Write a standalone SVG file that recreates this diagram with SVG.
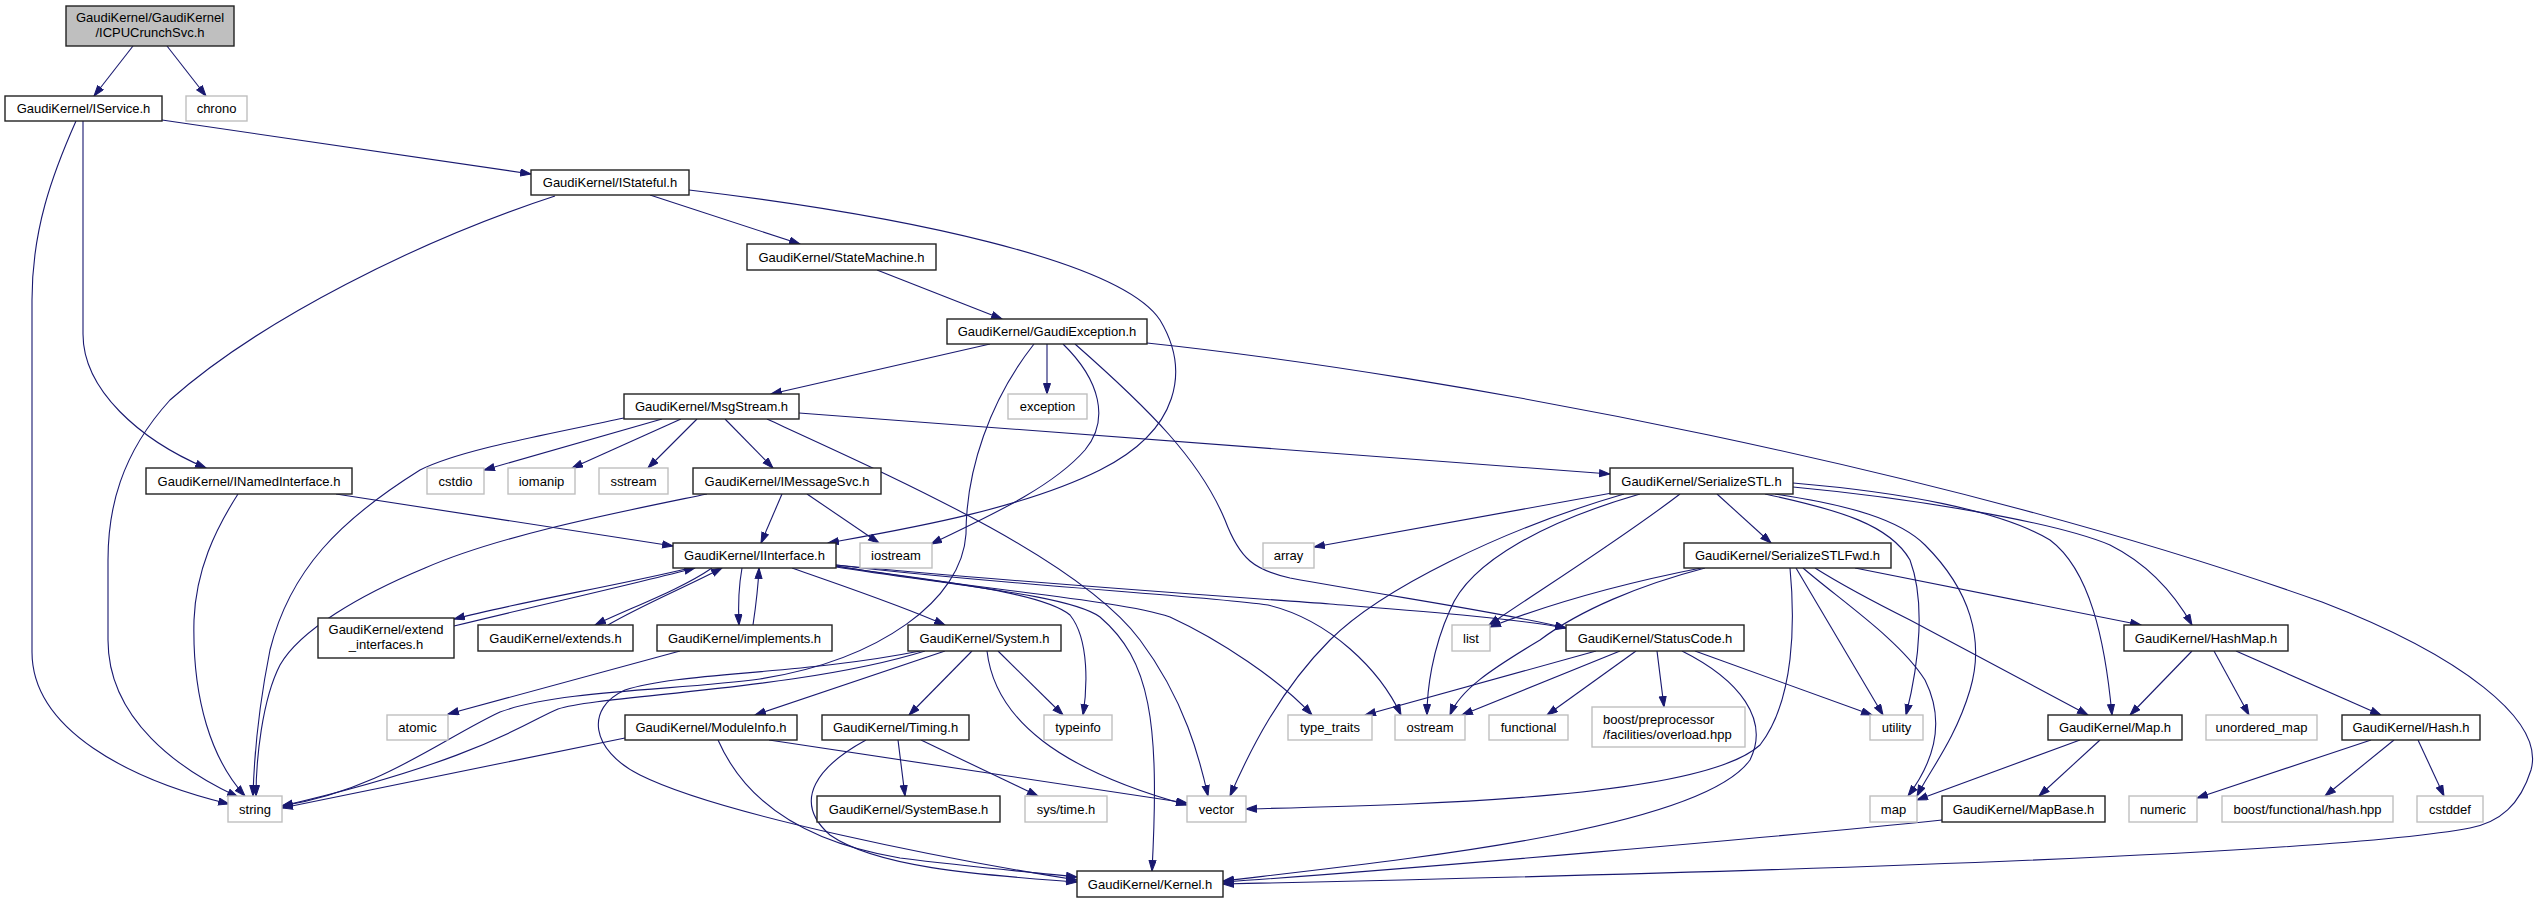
<svg xmlns="http://www.w3.org/2000/svg" width="2536" height="903" viewBox="0 0 2536 903">
<style>
rect{stroke-width:1.4}
.doc rect{fill:#fff;stroke:#222}
.ext rect{fill:#fff;stroke:#bfbfbf}
.root rect{fill:#bfbfbf;stroke:#222}
text{font-family:"Liberation Sans",Arial,sans-serif;font-size:13px;fill:#000;text-anchor:middle}
.lt{text-anchor:start}
#edges path{fill:none;stroke:#191970;stroke-width:1.1;marker-end:url(#ah)}
</style>
<defs>
<marker id="ah" markerUnits="userSpaceOnUse" markerWidth="12" markerHeight="9" refX="11" refY="4" orient="auto" viewBox="0 0 12 9">
<path d="M0.5,0.5 L11,4 L0.5,7.5 Z" fill="#191970" stroke="#191970" stroke-width="1"/>
</marker>
</defs>
<rect width="2536" height="903" fill="#fff"/>
<g id="edges">
<path d="M133,46 L94,96"/>
<path d="M167,46 L206,96"/>
<path d="M162,120 L531,174"/>
<path d="M83,121 C83,200 83,290 83,334 C83,390 140,440 206,468"/>
<path d="M76,121 C52,175 32,230 32,300 L32,652 C32,730 130,780 229,804"/>
<path d="M555,196 C420,240 260,320 170,400 C120,455 108,510 108,560 L108,640 C108,720 180,770 238,797"/>
<path d="M650,195 L800,244"/>
<path d="M689,190 C900,215 1120,260 1160,320 C1190,370 1180,430 1100,470 C1020,510 900,530 828,543"/>
<path d="M877,270 L1002,319"/>
<path d="M990,344 L771,394"/>
<path d="M1047,344 L1047,394"/>
<path d="M1034,344 C990,400 966,470 966,534 C962,600 880,660 760,679 C680,690 560,690 500,712 C440,740 380,790 282,806"/>
<path d="M1063,344 C1100,380 1110,420 1085,450 C1050,490 980,520 931,544"/>
<path d="M1075,344 C1150,410 1200,460 1225,520 C1240,560 1255,570 1290,578 C1400,598 1500,612 1566,628"/>
<path d="M1147,343 C1450,375 1950,470 2322,602 C2460,655 2545,720 2531,770 C2520,805 2500,822 2470,828 C2300,860 1500,878 1223,884"/>
<path d="M662,419 L484,470"/>
<path d="M681,419 L572,468"/>
<path d="M697,419 L648,468"/>
<path d="M725,419 L773,468"/>
<path d="M767,419 C900,480 1080,560 1140,640 C1185,700 1200,760 1208,796"/>
<path d="M624,418 C540,436 460,450 420,470 C340,520 290,570 270,650 C258,710 254,760 253,796"/>
<path d="M799,413 L1610,474"/>
<path d="M782,494 L761,543"/>
<path d="M807,494 L879,543"/>
<path d="M707,494 C620,512 500,535 425,568 C360,595 300,630 280,665 C262,700 256,760 256,796"/>
<path d="M336,494 L673,546"/>
<path d="M238,494 C215,530 196,570 194,620 C192,700 212,760 245,796"/>
<path d="M690,568 C620,585 520,602 454,619"/>
<path d="M454,626 C540,605 630,585 695,568"/>
<path d="M712,568 C680,590 630,608 595,625"/>
<path d="M608,625 C640,606 690,585 722,568"/>
<path d="M742,568 C738,590 738,605 739,625"/>
<path d="M753,625 C756,605 758,590 759,568"/>
<path d="M680,651 L448,714"/>
<path d="M792,568 C840,585 900,605 945,625"/>
<path d="M836,566 C920,580 1040,590 1070,615 C1090,640 1087,690 1083,715"/>
<path d="M836,567 C950,585 1070,595 1100,617 C1150,660 1160,720 1152,871"/>
<path d="M836,566 C980,590 1120,600 1170,617 C1220,640 1280,680 1312,715"/>
<path d="M836,565 C1000,585 1200,595 1268,605 C1330,620 1380,670 1401,715"/>
<path d="M836,565 C1050,585 1250,598 1330,604 C1430,612 1510,618 1566,628"/>
<path d="M1596,651 L1365,715"/>
<path d="M1620,651 L1462,715"/>
<path d="M1636,651 L1547,715"/>
<path d="M1657,651 L1664,707"/>
<path d="M1695,651 L1872,715"/>
<path d="M1682,651 C1740,680 1770,720 1750,760 C1700,830 1400,860 1223,881"/>
<path d="M1612,493 L1314,547"/>
<path d="M1624,494 C1500,530 1380,590 1330,640 C1280,690 1250,750 1230,796"/>
<path d="M1640,494 C1550,520 1470,560 1450,610 C1432,650 1427,690 1427,715"/>
<path d="M1680,494 C1620,540 1540,590 1489,625"/>
<path d="M1717,494 L1771,543"/>
<path d="M1793,487 C1900,497 2050,520 2110,545 C2150,565 2175,595 2192,625"/>
<path d="M1793,483 C1900,492 2000,510 2050,540 C2090,570 2105,640 2112,715"/>
<path d="M1775,494 C1850,505 1900,520 1925,545 C1970,590 1985,640 1970,690 C1955,740 1930,770 1917,796"/>
<path d="M1765,494 C1840,510 1890,525 1910,560 C1925,600 1920,660 1906,715"/>
<path d="M1701,568 C1640,580 1560,600 1490,627"/>
<path d="M1705,568 C1640,585 1580,610 1540,640 C1490,670 1460,690 1450,715"/>
<path d="M1790,568 C1795,620 1795,700 1760,745 C1700,800 1400,805 1246,809"/>
<path d="M1796,568 L1883,715"/>
<path d="M1803,568 C1840,600 1900,640 1925,680 C1945,720 1935,760 1908,796"/>
<path d="M1815,568 C1850,590 1880,605 1910,620 L2088,715"/>
<path d="M1855,568 L2141,625"/>
<path d="M2192,651 L2130,715"/>
<path d="M2214,651 L2249,715"/>
<path d="M2236,651 L2381,715"/>
<path d="M2080,740 L1917,800"/>
<path d="M2100,740 L2039,796"/>
<path d="M2371,740 L2197,798"/>
<path d="M2394,740 L2325,796"/>
<path d="M2418,740 L2444,796"/>
<path d="M1942,820 C1800,835 1400,870 1223,882"/>
<path d="M945,651 L755,715"/>
<path d="M972,651 L909,715"/>
<path d="M998,651 L1063,715"/>
<path d="M987,651 C995,720 1060,770 1187,805"/>
<path d="M925,651 C800,690 600,695 558,709 C530,720 480,760 282,806"/>
<path d="M920,651 C800,675 680,672 625,690 C585,708 590,750 640,775 C720,815 950,860 1077,880"/>
<path d="M625,738 L282,808"/>
<path d="M769,740 L1187,803"/>
<path d="M718,740 C740,790 790,840 900,858 C980,868 1040,873 1077,877"/>
<path d="M898,740 L905,796"/>
<path d="M921,740 L1038,796"/>
<path d="M866,740 C820,765 790,800 830,835 C880,870 1000,876 1077,882"/>
</g>
<g id="n_root" class="root"><rect x="66" y="6" width="168" height="40"/><text x="150" y="22">GaudiKernel/GaudiKernel</text><text x="150" y="37">/ICPUCrunchSvc.h</text></g>
<g id="n_IService" class="doc"><rect x="5" y="96" width="157" height="25"/><text x="83.5" y="113">GaudiKernel/IService.h</text></g>
<g id="n_chrono" class="ext"><rect x="186" y="96" width="61" height="25"/><text x="216.5" y="113">chrono</text></g>
<g id="n_IStateful" class="doc"><rect x="531" y="170" width="158" height="25"/><text x="610" y="187">GaudiKernel/IStateful.h</text></g>
<g id="n_StateMachine" class="doc"><rect x="747" y="244" width="189" height="26"/><text x="841.5" y="261.5">GaudiKernel/StateMachine.h</text></g>
<g id="n_GaudiException" class="doc"><rect x="947" y="319" width="200" height="25"/><text x="1047" y="336">GaudiKernel/GaudiException.h</text></g>
<g id="n_MsgStream" class="doc"><rect x="624" y="394" width="175" height="25"/><text x="711.5" y="411">GaudiKernel/MsgStream.h</text></g>
<g id="n_exception" class="ext"><rect x="1008" y="394" width="79" height="25"/><text x="1047.5" y="411">exception</text></g>
<g id="n_INamedInterface" class="doc"><rect x="146" y="468" width="206" height="26"/><text x="249" y="485.5">GaudiKernel/INamedInterface.h</text></g>
<g id="n_cstdio" class="ext"><rect x="427" y="468" width="57" height="26"/><text x="455.5" y="485.5">cstdio</text></g>
<g id="n_iomanip" class="ext"><rect x="508" y="468" width="67" height="26"/><text x="541.5" y="485.5">iomanip</text></g>
<g id="n_sstream" class="ext"><rect x="599" y="468" width="69" height="26"/><text x="633.5" y="485.5">sstream</text></g>
<g id="n_IMessageSvc" class="doc"><rect x="693" y="468" width="188" height="26"/><text x="787" y="485.5">GaudiKernel/IMessageSvc.h</text></g>
<g id="n_SerializeSTL" class="doc"><rect x="1610" y="468" width="183" height="26"/><text x="1701.5" y="485.5">GaudiKernel/SerializeSTL.h</text></g>
<g id="n_IInterface" class="doc"><rect x="673" y="543" width="163" height="25"/><text x="754.5" y="560">GaudiKernel/IInterface.h</text></g>
<g id="n_iostream" class="ext"><rect x="860" y="543" width="72" height="25"/><text x="896" y="560">iostream</text></g>
<g id="n_array" class="ext"><rect x="1263" y="543" width="51" height="25"/><text x="1288.5" y="560">array</text></g>
<g id="n_SerializeSTLFwd" class="doc"><rect x="1684" y="543" width="207" height="25"/><text x="1787.5" y="560">GaudiKernel/SerializeSTLFwd.h</text></g>
<g id="n_extend_interfaces" class="doc"><rect x="318" y="618" width="136" height="40"/><text x="386" y="634">GaudiKernel/extend</text><text x="386" y="649">_interfaces.h</text></g>
<g id="n_extends" class="doc"><rect x="478" y="625" width="155" height="26"/><text x="555.5" y="642.5">GaudiKernel/extends.h</text></g>
<g id="n_implements" class="doc"><rect x="657" y="625" width="175" height="26"/><text x="744.5" y="642.5">GaudiKernel/implements.h</text></g>
<g id="n_System" class="doc"><rect x="908" y="625" width="153" height="26"/><text x="984.5" y="642.5">GaudiKernel/System.h</text></g>
<g id="n_list" class="ext"><rect x="1452" y="625" width="38" height="26"/><text x="1471" y="642.5">list</text></g>
<g id="n_StatusCode" class="doc"><rect x="1566" y="625" width="178" height="26"/><text x="1655" y="642.5">GaudiKernel/StatusCode.h</text></g>
<g id="n_HashMap" class="doc"><rect x="2124" y="625" width="164" height="26"/><text x="2206" y="642.5">GaudiKernel/HashMap.h</text></g>
<g id="n_atomic" class="ext"><rect x="387" y="715" width="61" height="25"/><text x="417.5" y="732">atomic</text></g>
<g id="n_ModuleInfo" class="doc"><rect x="625" y="715" width="172" height="25"/><text x="711" y="732">GaudiKernel/ModuleInfo.h</text></g>
<g id="n_Timing" class="doc"><rect x="822" y="715" width="147" height="25"/><text x="895.5" y="732">GaudiKernel/Timing.h</text></g>
<g id="n_typeinfo" class="ext"><rect x="1044" y="715" width="68" height="25"/><text x="1078" y="732">typeinfo</text></g>
<g id="n_type_traits" class="ext"><rect x="1288" y="715" width="84" height="25"/><text x="1330" y="732">type_traits</text></g>
<g id="n_ostream" class="ext"><rect x="1395" y="715" width="70" height="25"/><text x="1430" y="732">ostream</text></g>
<g id="n_functional" class="ext"><rect x="1489" y="715" width="79" height="25"/><text x="1528.5" y="732">functional</text></g>
<g id="n_boost_pp" class="ext"><rect x="1592" y="707" width="153" height="40"/><text class="lt" x="1603" y="724">boost/preprocessor</text><text class="lt" x="1603" y="739">/facilities/overload.hpp</text></g>
<g id="n_utility" class="ext"><rect x="1870" y="715" width="53" height="25"/><text x="1896.5" y="732">utility</text></g>
<g id="n_Map" class="doc"><rect x="2048" y="715" width="134" height="25"/><text x="2115" y="732">GaudiKernel/Map.h</text></g>
<g id="n_unordered_map" class="ext"><rect x="2206" y="715" width="111" height="25"/><text x="2261.5" y="732">unordered_map</text></g>
<g id="n_Hash" class="doc"><rect x="2342" y="715" width="138" height="25"/><text x="2411" y="732">GaudiKernel/Hash.h</text></g>
<g id="n_string" class="ext"><rect x="228" y="796" width="54" height="26"/><text x="255" y="813.5">string</text></g>
<g id="n_SystemBase" class="doc"><rect x="817" y="796" width="183" height="26"/><text x="908.5" y="813.5">GaudiKernel/SystemBase.h</text></g>
<g id="n_systime" class="ext"><rect x="1025" y="796" width="82" height="26"/><text x="1066" y="813.5">sys/time.h</text></g>
<g id="n_vector" class="ext"><rect x="1187" y="796" width="59" height="26"/><text x="1216.5" y="813.5">vector</text></g>
<g id="n_map" class="ext"><rect x="1870" y="796" width="47" height="26"/><text x="1893.5" y="813.5">map</text></g>
<g id="n_MapBase" class="doc"><rect x="1942" y="796" width="163" height="26"/><text x="2023.5" y="813.5">GaudiKernel/MapBase.h</text></g>
<g id="n_numeric" class="ext"><rect x="2129" y="796" width="68" height="26"/><text x="2163" y="813.5">numeric</text></g>
<g id="n_boost_hash" class="ext"><rect x="2222" y="796" width="171" height="26"/><text x="2307.5" y="813.5">boost/functional/hash.hpp</text></g>
<g id="n_cstddef" class="ext"><rect x="2417" y="796" width="66" height="26"/><text x="2450" y="813.5">cstddef</text></g>
<g id="n_Kernel" class="doc"><rect x="1077" y="871" width="146" height="26"/><text x="1150" y="888.5">GaudiKernel/Kernel.h</text></g>
</svg>
